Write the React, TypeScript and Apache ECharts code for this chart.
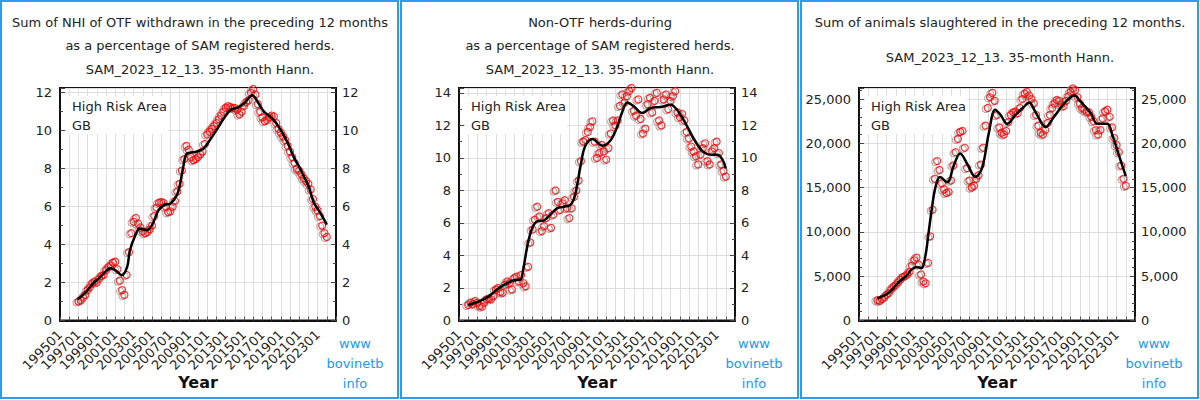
import React, { useEffect, useRef } from "react";
import * as echarts from "echarts";

// ---------- tick labels ----------
const X_LABELS = ["199501", "199701", "199901", "200101", "200301", "200501", "200701", "200901", "201101", "201301", "201501", "201701", "201901", "202101", "202301"];

// ---------- titles ----------
const P1_TITLE = ["Sum of NHI of OTF withdrawn in the preceding 12 months", "as a percentage of SAM registered herds.", "SAM_2023_12_13. 35-month Hann."];
const P2_TITLE = ["Non-OTF herds-during", "as a percentage of SAM registered herds.", "SAM_2023_12_13. 35-month Hann."];
const P3_TITLE = ["Sum of animals slaughtered in the preceding 12 months.", "SAM_2023_12_13. 35-month Hann."];
const AREA_LABEL = ["High Risk Area", "GB"];
const SITE_LABEL = ["www", "bovinetb", "info"];

// ---------- panel 1: quarterly readings from 1997.0 ----------
const P1_RED_START = 1997;
const P1_RED = [
  1.0, 1.05, 1.2, 1.35,
  1.6, 1.75, 1.95, 2.05,
  2.0, 2.2, 2.35, 2.4,
  2.65, 2.8, 2.9, 3.05,
  3.1, 2.7, 2.1, 1.6,
  1.35, 2.4, 3.6, 4.6,
  5.2, 5.4, 5.1, 4.9,
  4.7, 4.6, 4.65, 4.8,
  5.0, 5.5, 5.95, 6.2,
  6.25, 6.2, 6.0, 5.7,
  5.75, 6.0, 6.3, 6.8,
  7.2, 7.9, 8.5, 9.2,
  9.0, 8.6, 8.45, 8.5,
  8.6, 8.75, 8.9, 9.3,
  9.8, 9.95, 10.1, 10.25,
  10.4, 10.6, 10.8, 11.0,
  11.2, 11.3, 11.25, 11.2,
  11.2, 11.1, 10.85, 11.0,
  11.3, 11.5, 11.6, 12.0,
  12.2, 11.9, 11.4, 11.0,
  10.7, 10.5, 10.55, 10.7,
  10.8, 10.75, 10.4, 10.1,
  9.9, 9.7, 9.5, 9.2,
  8.9, 8.6, 8.3, 8.0,
  7.9, 7.7, 7.5, 7.35,
  7.2, 6.9, 6.4, 6.0,
  5.8, 5.5, 5.0, 4.6,
  4.4,
];
const P1_LINE_T = [1996.9, 1997.5, 1998.0, 1998.5, 1999.0, 1999.5, 2000.0, 2000.45, 2001.0, 2001.7, 2002.3, 2002.6, 2003.2, 2003.65, 2004.45, 2005.0, 2005.7, 2006.3, 2007.0, 2007.7, 2008.1, 2008.4, 2008.8, 2009.7, 2010.6, 2011.4, 2012.1, 2012.8, 2013.5, 2014.3, 2015.0, 2015.9, 2016.6, 2017.2, 2018.1, 2019.0, 2019.7, 2020.4, 2021.1, 2021.5, 2022.0, 2022.6, 2023.0, 2023.5, 2024.0];
const P1_LINE_V = [1.12, 1.35, 1.6, 1.9, 2.13, 2.35, 2.6, 2.75, 2.66, 2.39, 2.83, 3.7, 4.5, 4.85, 4.76, 5.03, 5.8, 6.08, 6.17, 6.6, 7.3, 8.1, 8.8, 8.88, 9.06, 9.59, 10.1, 10.64, 11.08, 11.22, 11.43, 11.87, 11.43, 10.99, 10.64, 10.03, 9.41, 8.62, 8.01, 7.6, 7.1, 6.2, 5.9, 5.5, 5.05];

// ---------- panel 2 ----------
const P2_RED_START = 1996;
const P2_RED = [
  0.95, 1.1, 1.0, 1.2,
  1.1, 0.9, 0.85, 1.1,
  1.3, 1.35, 1.3, 1.5,
  1.9, 2.0, 1.75, 1.7,
  2.2, 2.4, 2.3, 1.9,
  2.6, 2.7, 2.4, 2.8,
  2.3, 2.1, 3.3, 4.8,
  5.6, 6.2, 7.0, 6.4,
  5.5, 5.8, 6.3, 6.6,
  5.7, 6.5, 8.0, 7.3,
  6.8, 7.2, 7.4, 6.9,
  6.3, 6.9, 7.6, 8.0,
  8.6, 9.8, 11.0, 11.1,
  11.6, 11.9, 12.25, 11.0,
  10.0, 10.3, 10.8, 10.4,
  9.9, 10.6, 11.5, 12.3,
  12.0, 12.3, 13.2, 13.9,
  13.4, 13.8, 14.1, 14.3,
  12.9, 12.6, 13.6, 12.4,
  11.5, 11.8, 13.3, 13.7,
  12.8, 13.5, 14.0, 12.3,
  12.0, 13.6, 13.9, 13.0,
  13.5, 13.8, 14.1, 12.8,
  12.5, 12.7, 12.3, 11.6,
  11.2, 10.7, 10.4, 10.1,
  9.6, 10.2, 10.6, 10.9,
  9.8, 9.6, 10.4, 10.6,
  11.0, 10.3, 9.6, 9.2,
  8.85,
];
const P2_LINE_T = [1996.0, 1997.1, 1998.2, 1999.3, 2000.2, 2001.1, 2001.65, 2002.0, 2002.4, 2002.9, 2003.5, 2004.2, 2004.9, 2005.65, 2006.4, 2007.1, 2007.5, 2007.8, 2008.2, 2008.7, 2009.5, 2010.6, 2011.5, 2012.2, 2012.7, 2013.3, 2014.0, 2014.9, 2015.8, 2016.9, 2018.0, 2018.7, 2019.6, 2020.6, 2021.5, 2022.4, 2023.1, 2023.65, 2024.0];
const P2_LINE_V = [0.95, 1.16, 1.47, 1.98, 2.29, 2.49, 2.5, 3.2, 4.5, 5.6, 6.1, 6.14, 6.5, 6.9, 7.0, 7.1, 7.5, 8.2, 9.47, 10.7, 11.16, 10.75, 11.1, 11.93, 12.76, 13.41, 13.17, 12.76, 13.06, 13.13, 13.27, 12.96, 12.14, 11.1, 10.4, 10.2, 10.2, 9.88, 9.35];

// ---------- panel 3 ----------
const P3_RED_START = 1997;
const P3_RED = [
  2300, 2200, 2400, 2600,
  2900, 3100, 3500, 3800,
  4000, 4300, 4600, 4900,
  5000, 5200, 5500, 6200,
  6800, 7100, 6300, 5200,
  4400, 4200, 6500, 9500,
  12500, 16000, 18000, 17000,
  15500, 14800, 14400, 14500,
  15800, 17500, 19000, 20500,
  21300, 21400, 19500, 17200,
  15800, 15000, 15200, 16000,
  16400, 17600, 19500, 22000,
  24000, 25200, 25700, 24800,
  23200, 21800, 21200, 21000,
  21400, 22400, 23200, 23500,
  23600, 23400, 24000, 25000,
  25600, 25800, 25400, 25000,
  24500, 23200, 22000, 21200,
  21000, 21500, 22300, 23200,
  24000, 24500, 24900, 24800,
  24400, 24200, 24800, 25300,
  25800, 26200, 26000, 25200,
  24500, 24000, 23800, 23600,
  23500, 23000, 22500, 21500,
  21000, 21500, 22800, 23600,
  23800, 23000, 21800, 20600,
  19800, 19000, 17500, 16000,
  15200,
];
const P3_LINE_T = [1997.0, 1998.2, 1999.3, 2000.2, 2000.75, 2001.3, 2001.8, 2002.2, 2002.55, 2002.9, 2003.3, 2003.8, 2004.6, 2005.3, 2006.0, 2006.75, 2007.65, 2008.4, 2009.1, 2009.8, 2010.4, 2011.1, 2012.0, 2012.9, 2013.5, 2014.2, 2015.3, 2016.2, 2017.3, 2018.4, 2019.1, 2020.2, 2020.9, 2022.0, 2022.55, 2023.3, 2024.0];
const P3_LINE_V = [2500, 3100, 4300, 5100, 5800, 6050, 5900, 7200, 9800, 12500, 15000, 16200, 15600, 17500, 18850, 17700, 16200, 17300, 21100, 23800, 23200, 22200, 23200, 24100, 24600, 23500, 21850, 23000, 24500, 25400, 24700, 23400, 22200, 22200, 20900, 18500, 16300];

const FONT = "DejaVu Sans, Verdana, sans-serif";
const BLUE = "#2d9bf0";

const plainFmt = (v: number) => String(v);
const commaFmt = (v: number) => v.toLocaleString("en-US");

export default function App() {
  const ref = useRef<HTMLDivElement>(null);

  useEffect(() => {
    if (!ref.current) return;
    const chart = echarts.init(ref.current, undefined, { renderer: "svg" });

    const panels = [
      { left: 60, title: P1_TITLE, titleY: [22, 45, 69], red: P1_RED, redStart: P1_RED_START, lt: P1_LINE_T, lv: P1_LINE_V, yMax: 12.25, yInt: 2, minor: 2, fmt: plainFmt },
      { left: 459, title: P2_TITLE, titleY: [22, 45, 69], red: P2_RED, redStart: P2_RED_START, lt: P2_LINE_T, lv: P2_LINE_V, yMax: 14.3, yInt: 2, minor: 2, fmt: plainFmt },
      { left: 859, title: P3_TITLE, titleY: [22, 57], red: P3_RED, redStart: P3_RED_START, lt: P3_LINE_T, lv: P3_LINE_V, yMax: 26250, yInt: 5000, minor: 5, fmt: commaFmt },
    ];

    const grid: any[] = [];
    const xAxis: any[] = [];
    const yAxis: any[] = [];
    const series: any[] = [];
    const graphic: any[] = [];

    const xFmt = (v: number) => {
      const r = Math.round(v);
      if (Math.abs(v - r) > 1e-6) return "";
      const s = `${r}01`;
      return X_LABELS.includes(s) ? s : "";
    };

    panels.forEach((p, i) => {
      const ox = 400 * i;
      grid.push({ left: p.left, top: 88, width: 276, height: 232.5, show: true, borderColor: "#111", borderWidth: 2, backgroundColor: "transparent", containLabel: false });
      xAxis.push({
        type: "value", gridIndex: i, min: 1995, max: 2025, interval: 1,
        axisLine: { show: true, onZero: false, lineStyle: { color: "#111", width: 2 } },
        axisTick: { show: true, inside: true, length: 4, lineStyle: { color: "#555" } },
        axisLabel: { show: true, rotate: 45, margin: 12, formatter: xFmt, color: "#222", fontSize: 13, fontFamily: FONT, hideOverlap: false },
        splitLine: { show: true, lineStyle: { color: "#dedede", width: 1 } },
      });
      const yBase = {
        type: "value", gridIndex: i, min: 0, max: p.yMax, interval: p.yInt,
        axisLine: { show: true, lineStyle: { color: "#111", width: 2 } },
        axisTick: { show: true, inside: true, length: 5, lineStyle: { color: "#444" } },
        minorTick: { show: true, splitNumber: p.minor, length: 3, lineStyle: { color: "#444" } },
        axisLabel: {
          show: true, color: "#222", fontSize: 13, fontFamily: FONT, margin: 8,
          formatter: (v: number) => (Math.abs(v % p.yInt) < 1e-6 ? p.fmt(v) : ""),
          showMaxLabel: true,
        },
      };
      yAxis.push({ ...yBase, position: "left", splitLine: { show: true, lineStyle: { color: "#dedede", width: 1 } } });
      yAxis.push({ ...yBase, position: "right", splitLine: { show: false }, axisLabel: { ...yBase.axisLabel, margin: 6 } });

      const redData = p.red.map((v, k) => [p.redStart + k * 0.25, v]);
      const lineData = p.lt.map((t, k) => [t, p.lv[k]]);

      series.push({
        type: "scatter", xAxisIndex: i, yAxisIndex: 2 * i, data: redData, symbol: "circle", symbolSize: 7,
        symbolOffset: [-2, 1],
        itemStyle: { color: "rgba(0,0,0,0)", borderColor: "#999", borderWidth: 1.1 }, z: 2, silent: true,
      });
      series.push({
        type: "scatter", xAxisIndex: i, yAxisIndex: 2 * i, data: redData, symbol: "circle", symbolSize: 7,
        itemStyle: { color: "rgba(0,0,0,0)", borderColor: "#ff0000", borderWidth: 1.2 }, z: 3, silent: true,
      });
      series.push({
        type: "line", xAxisIndex: i, yAxisIndex: 2 * i, data: lineData, smooth: 0.35, showSymbol: false, symbol: "none",
        lineStyle: { color: "#000", width: 2.5 }, z: 4, silent: true,
      });

      // panel border
      graphic.push({ type: "rect", shape: { x: ox + 1, y: 1, width: 397, height: 397 }, style: { fill: "none", stroke: BLUE, lineWidth: 2 }, z: 10 });
      // titles
      p.title.forEach((t, k) => {
        graphic.push({ type: "text", x: ox + 200, y: p.titleY[k], style: { text: t, fill: "#222", font: `13px ${FONT}`, textAlign: "center", textVerticalAlign: "middle" }, z: 10 });
      });
      // area label box
      graphic.push({ type: "rect", shape: { x: p.left + 7, y: 96, width: 101, height: 38 }, style: { fill: "#fff" }, z: 1 });
      graphic.push({ type: "text", x: p.left + 12, y: 106, style: { text: AREA_LABEL[0], fill: "#222", font: `13px ${FONT}`, textVerticalAlign: "middle" }, z: 10 });
      graphic.push({ type: "text", x: p.left + 12, y: 125, style: { text: AREA_LABEL[1], fill: "#222", font: `13px ${FONT}`, textVerticalAlign: "middle" }, z: 10 });
      // axis name
      graphic.push({ type: "text", x: p.left + 138, y: 382, style: { text: "Year", fill: "#111", font: `bold 16px ${FONT}`, textAlign: "center", textVerticalAlign: "middle" }, z: 10 });
      // site label
      SITE_LABEL.forEach((t, k) => {
        graphic.push({ type: "text", x: p.left + 295, y: 343 + k * 20, style: { text: t, fill: "#2196f3", font: `13px ${FONT}`, textAlign: "center", textVerticalAlign: "middle" }, z: 10 });
      });
    });

    chart.setOption({
      animation: false,
      backgroundColor: "#fff",
      textStyle: { fontFamily: FONT },
      grid, xAxis, yAxis, series, graphic,
    });

    return () => chart.dispose();
  }, []);

  return <div ref={ref} style={{ position: "absolute", left: 0, top: 0, width: 1200, height: 400 }} />;
}
